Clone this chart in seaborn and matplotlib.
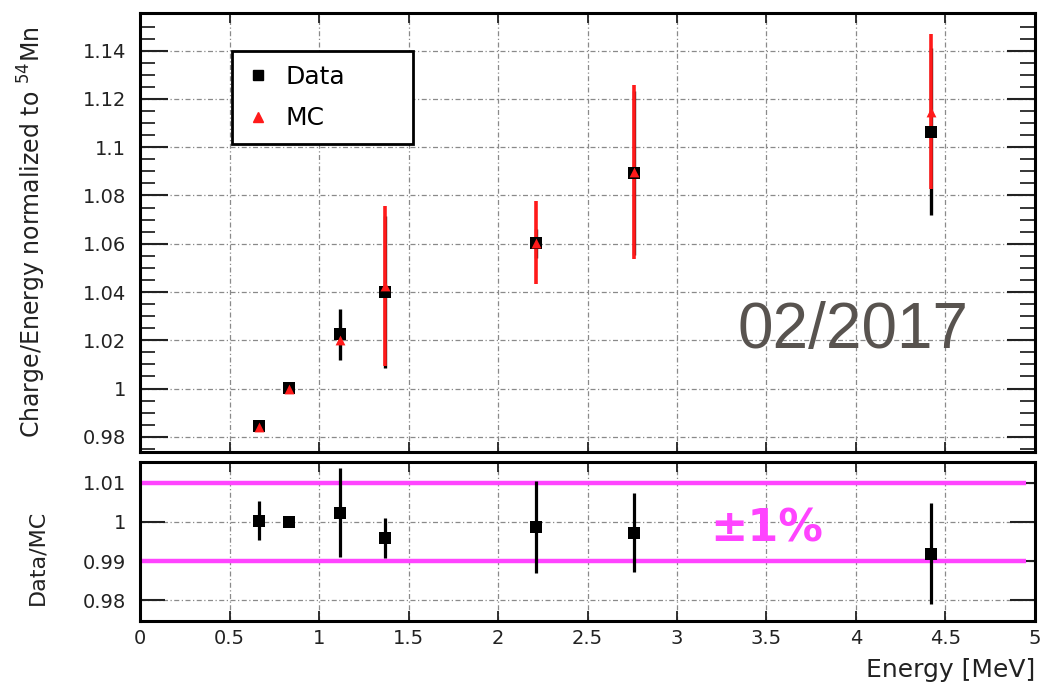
import numpy as np
import pandas as pd
import matplotlib
matplotlib.use("Agg")
import matplotlib.pyplot as plt
import seaborn as sns
from matplotlib.lines import Line2D
from matplotlib.ticker import FixedLocator, MultipleLocator, FuncFormatter

# values
energy = [0.662, 0.835, 1.12, 1.37, 2.21, 2.76, 4.42]
data_val = [0.9844, 1.0003, 1.0224, 1.0401, 1.0602, 1.0894, 1.1064]
data_err = [0.0015, 0.001, 0.0105, 0.0315, 0.006, 0.034, 0.0345]
mc_val = [0.9842, 1.0, 1.0201, 1.0425, 1.0605, 1.0897, 1.1147]
mc_err = [0.001, 0.001, 0.002, 0.033, 0.0171, 0.036, 0.032]
ratio_val = [1.0003, 1.0, 1.0024, 0.9959, 0.9987, 0.9973, 0.9919]
ratio_err = [0.005, 0.001, 0.0113, 0.005, 0.0118, 0.010, 0.013]
band = [1.01, 0.99]

x_ticks = [0, 0.5, 1, 1.5, 2, 2.5, 3, 3.5, 4, 4.5, 5]
top_yticks = [0.98, 1.0, 1.02, 1.04, 1.06, 1.08, 1.1, 1.12, 1.14]
bot_yticks = [0.98, 0.99, 1.0, 1.01]

df = pd.DataFrame({'energy': energy, 'data': data_val, 'mc': mc_val, 'ratio': ratio_val})

sns.set_theme(style="white")
plt.rcParams['font.family'] = ['DejaVu Sans']

fig = plt.figure(figsize=(10.56, 6.88), dpi=100)
ax1 = fig.add_axes([0.1326, 0.3430, 0.8475, 0.6381])
ax2 = fig.add_axes([0.1326, 0.0974, 0.8475, 0.2311], sharex=ax1)

grid_kw = dict(color='#8a8a8a', linestyle=(0, (4, 2, 1, 2)), linewidth=0.9)
fmt = FuncFormatter(lambda v, p: '{:g}'.format(round(v, 4)))

for ax in (ax1, ax2):
    ax.set_xlim(0, 5)
    ax.xaxis.set_major_locator(FixedLocator(x_ticks))
    ax.yaxis.set_major_formatter(fmt)
    ax.xaxis.set_major_formatter(fmt)
    ax.grid(True, which='major', **grid_kw)
    ax.set_axisbelow(True)
    for s in ax.spines.values():
        s.set_linewidth(2.2)
        s.set_color('black')
    ax.tick_params(axis='x', which='major', direction='in', length=7, width=1.3,
                   top=True, bottom=True, labelsize=14, pad=6, colors='#222222')

# ---- top panel
ax1.set_ylim(0.9737, 1.1556)
ax1.yaxis.set_major_locator(FixedLocator(top_yticks))
ax1.yaxis.set_minor_locator(MultipleLocator(0.005))
ax1.tick_params(axis='y', which='major', direction='in', length=20, width=1.5,
                left=True, right=True, labelsize=14, pad=10, colors='#222222')
ax1.tick_params(axis='y', which='minor', direction='in', length=11, width=1.3,
                left=True, right=True)
ax1.tick_params(axis='x', labelbottom=False)

ax1.errorbar(energy, data_val, yerr=data_err, fmt='none', ecolor='black',
             elinewidth=2.4, capsize=0, zorder=3)
ax1.errorbar(energy, mc_val, yerr=mc_err, fmt='none', ecolor='#ff1a1a',
             elinewidth=2.6, capsize=0, zorder=4)
sns.scatterplot(data=df, x='energy', y='data', marker='s', color='black', s=80,
                linewidth=0, ax=ax1, zorder=5)
sns.scatterplot(data=df, x='energy', y='mc', marker='^', color='#ff1a1a', s=50,
                linewidth=0, ax=ax1, zorder=6)
ax1.set_xlabel('')
ax1.set_ylabel(r'Charge/Energy normalized to $^{54}$Mn', fontsize=17, color='#222222')
ax1.yaxis.set_label_coords(-0.103, 0.5)

handles = [Line2D([], [], marker='s', color='black', linestyle='none', markersize=7),
           Line2D([], [], marker='^', color='#ff1a1a', linestyle='none', markersize=7)]
leg = ax1.legend(handles, ['Data', 'MC'], loc='upper left',
                 bbox_to_anchor=(0.1027, 0.697, 0.202, 0.2164), mode='expand',
                 frameon=True, fancybox=False, edgecolor='black', framealpha=1,
                 fontsize=18, handletextpad=0.6, labelspacing=0.7, borderpad=0.55,
                 handlelength=1.0, borderaxespad=0, labelcolor='black')
leg.get_frame().set_linewidth(2.0)

# ---- bottom panel
ax2.set_ylim(0.97466, 1.01534)
ax2.yaxis.set_major_locator(FixedLocator(bot_yticks))
ax2.tick_params(axis='y', which='major', direction='in', length=18, width=1.5,
                left=True, right=True, labelsize=14, pad=10, colors='#222222')
ax2.hlines(band, 0, 4.95, color='#ff44ff', linewidth=3.2, zorder=2)
ax2.errorbar(energy, ratio_val, yerr=ratio_err, fmt='none', ecolor='black',
             elinewidth=2.3, capsize=0, zorder=4)
sns.scatterplot(data=df, x='energy', y='ratio', marker='s', color='black', s=75,
                linewidth=0, ax=ax2, zorder=5)
ax2.set_ylabel('Data/MC', fontsize=16, color='#222222')
ax2.yaxis.set_label_coords(-0.103, 0.4)
ax2.set_xlabel('Energy [MeV]', fontsize=18, loc='right', labelpad=7, color='#222222')

fig.text(767 / 1056, 1 - 541 / 688, '\u00b11%', color='#ff44ff', fontsize=32,
         fontweight='bold', ha='center', va='baseline')
fig.text(853 / 1056, 1 - 348 / 688, '02/2017', color='#58534f', fontsize=46,
         family='Liberation Sans', ha='center', va='baseline')

fig.savefig('out.png', dpi=100)
